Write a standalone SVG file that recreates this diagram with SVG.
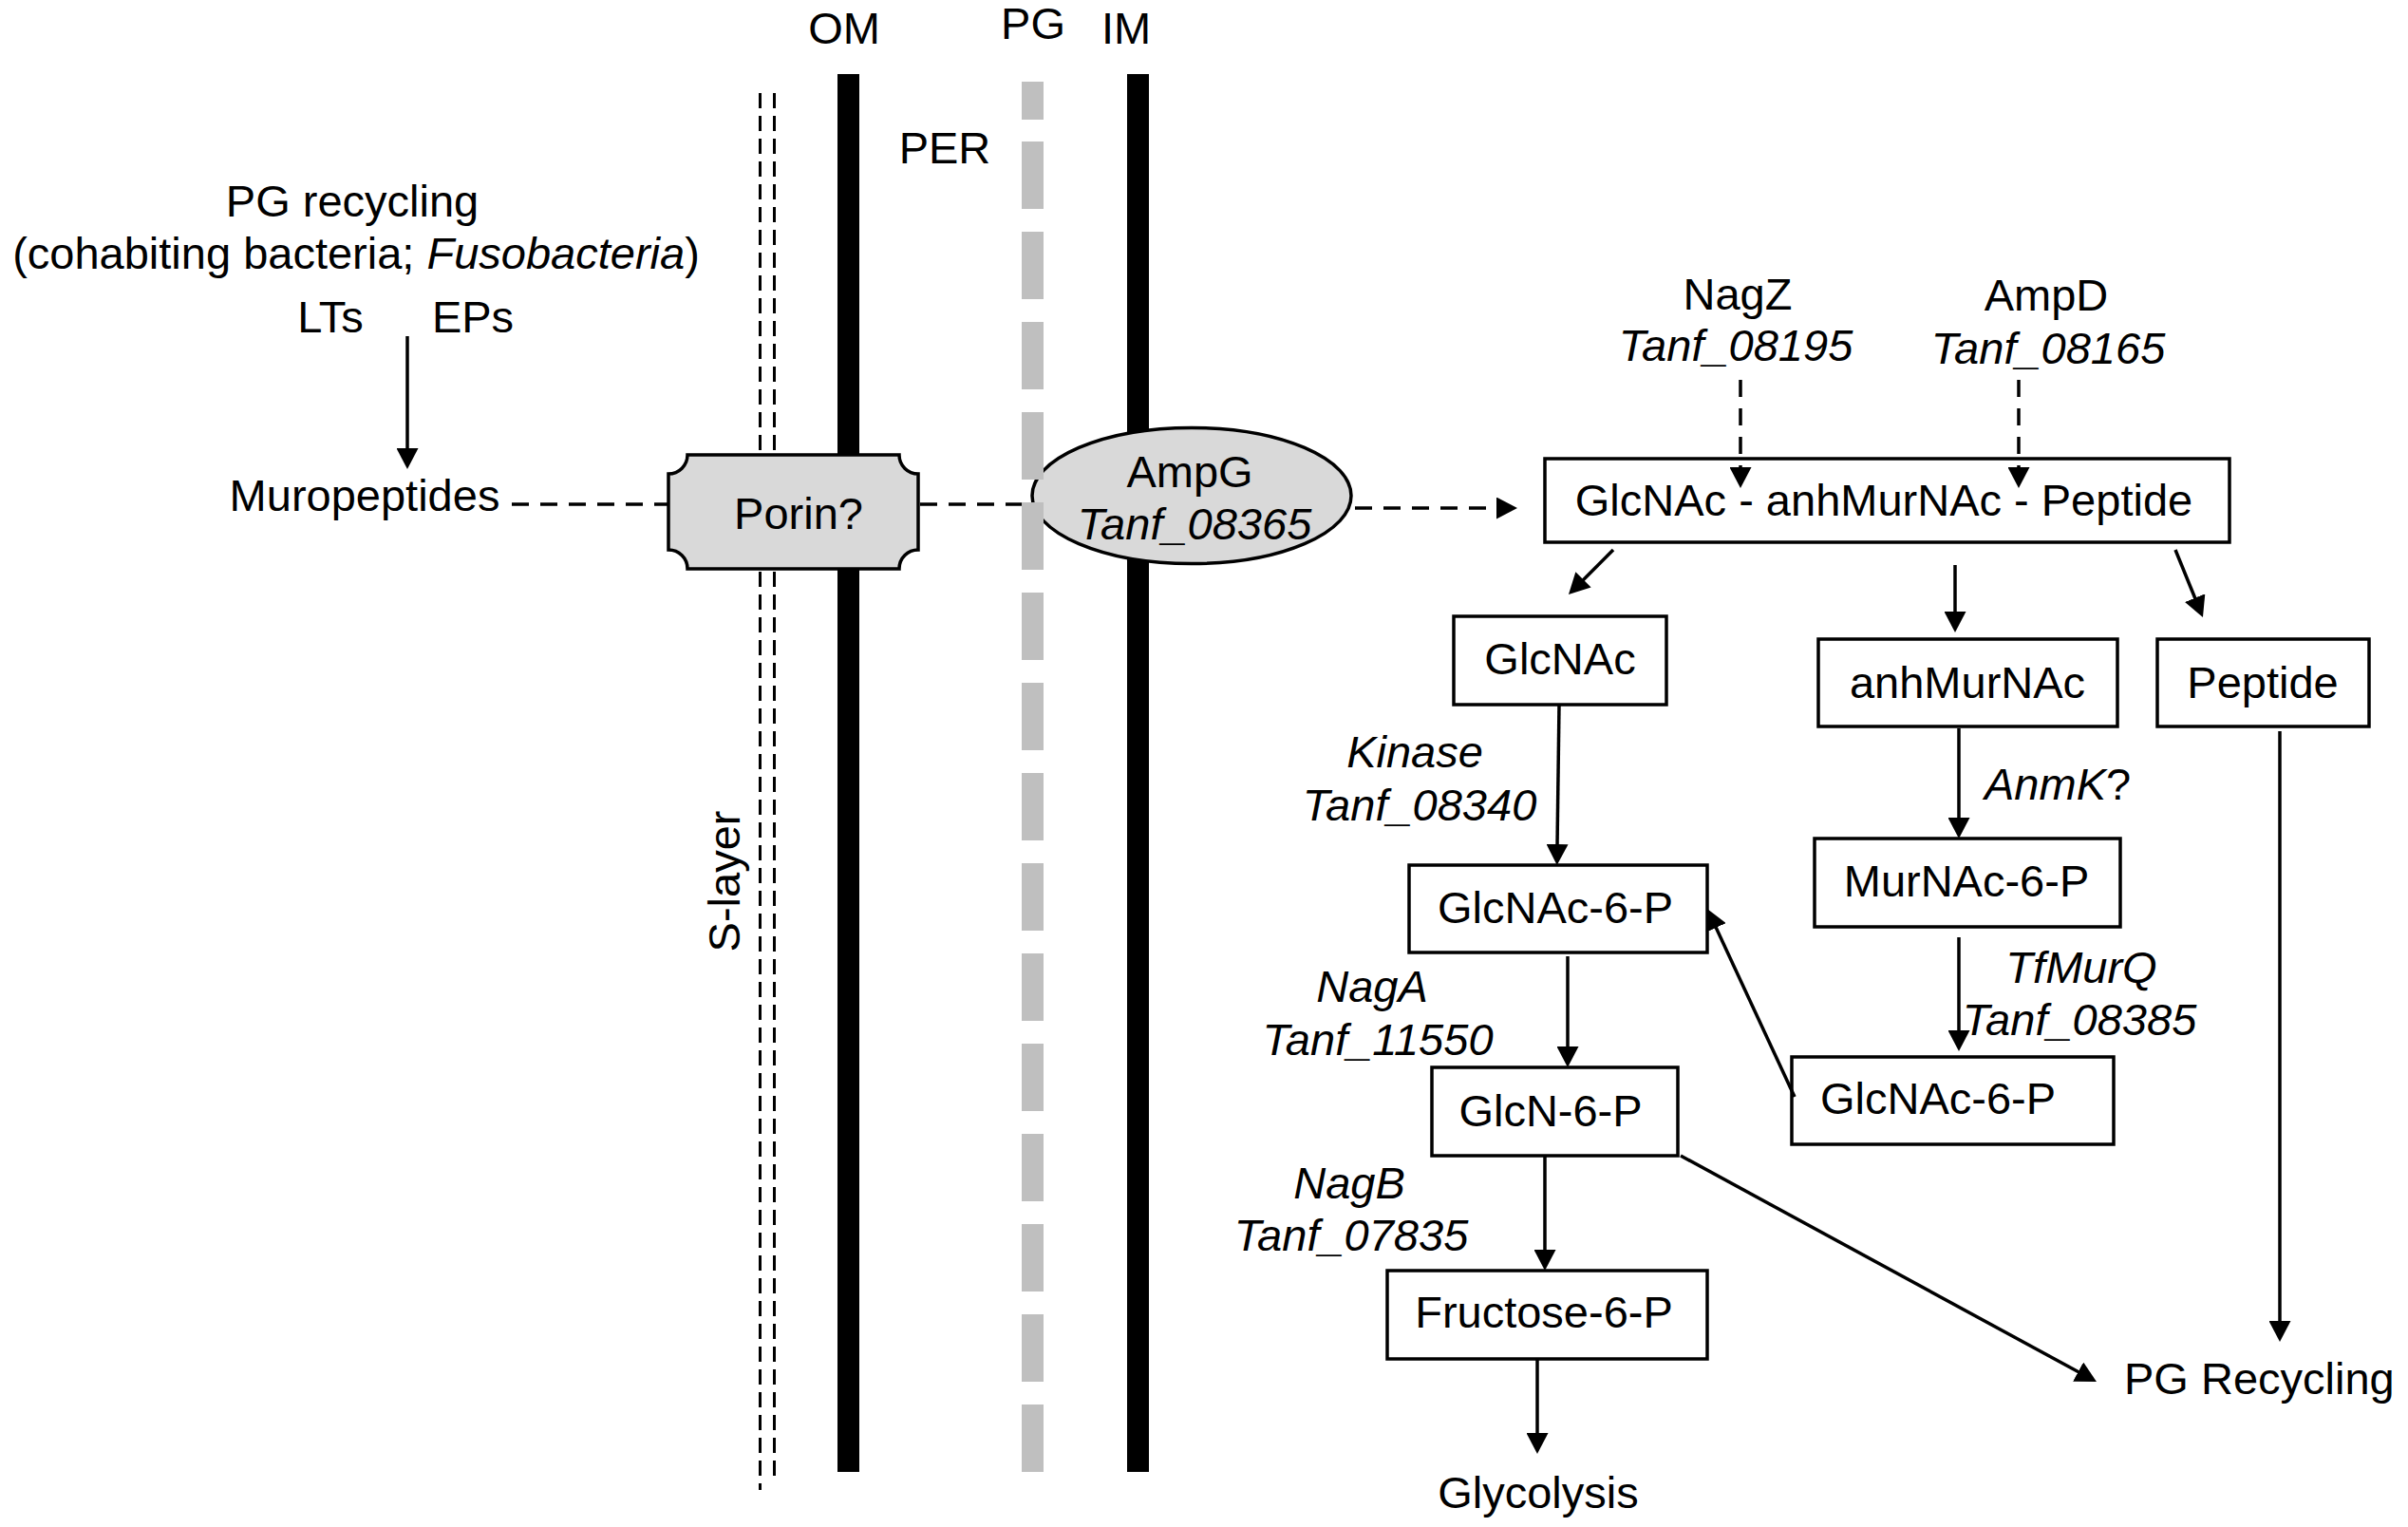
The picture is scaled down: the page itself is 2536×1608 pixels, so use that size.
<svg xmlns="http://www.w3.org/2000/svg" width="2536" height="1608" viewBox="0 0 2536 1608">
<defs>
<style>
text{font-family:"Liberation Sans",Arial,sans-serif;font-size:47px;fill:#000}
.m{text-anchor:middle}
.i{font-style:italic}
.box{fill:#fff;stroke:#000;stroke-width:3.5}
.ar{fill:none;stroke:#000;stroke-width:3.5}
.da{fill:none;stroke:#000;stroke-width:3.5;stroke-dasharray:18 12}
.sl{fill:none;stroke:#000;stroke-width:3;stroke-dasharray:16 8}
</style>
<marker id="ah" markerUnits="userSpaceOnUse" markerWidth="22" markerHeight="23" refX="2" refY="11.5" orient="auto" viewBox="0 0 22 23">
<path d="M0,0 L22,11.5 L0,23 Z" fill="#000"/>
</marker>
</defs>
<rect width="2536" height="1608" fill="#fff"/>

<g id="membranes">
<line class="sl" x1="800.5" y1="98" x2="800.5" y2="1569"/>
<line class="sl" x1="815.5" y1="98" x2="815.5" y2="1562"/>
<rect x="882" y="78" width="23" height="1472" fill="#000"/>
<rect x="1187" y="78" width="23" height="1472" fill="#000"/>
</g>

<g id="labels">
<text class="m" x="889" y="46" font-size="45">OM</text>
<text class="m" x="1088" y="41" font-size="45">PG</text>
<text class="m" x="1186" y="46" font-size="45">IM</text>
<text class="m" x="995" y="172">PER</text>
<text class="m" transform="translate(779,928) rotate(-90)">S-layer</text>
</g>

<g id="pg-recycling-source">
<text class="m" x="371" y="228">PG recycling</text>
<text class="m" x="375" y="283">(cohabiting bacteria; <tspan class="i">Fusobacteria</tspan>)</text>
<text class="m" x="348" y="350">LTs</text>
<text class="m" x="498" y="350">EPs</text>
</g>

<g id="muropeptides">
<text class="m" x="384" y="538">Muropeptides</text>
</g>

<g id="porin">
<path d="M724,479 L947,479 A20,20 0 0 0 967,499 L967,579 A20,20 0 0 0 947,599 L724,599 A20,20 0 0 0 704,579 L704,499 A20,20 0 0 0 724,479 Z" fill="#d9d9d9" stroke="#000" stroke-width="3.5"/>
<text class="m" x="841" y="557">Porin?</text>
</g>

<g id="ampg">
<ellipse cx="1255" cy="522" rx="168" ry="71.5" fill="#d9d9d9" stroke="#000" stroke-width="3.5"/>
<text class="m" x="1253" y="513">AmpG</text>
<text class="m i" x="1258" y="568">Tanf_08365</text>
</g>

<g id="pg-layer" fill="#bfbfbf">
<rect x="1076" y="86" width="23" height="40"/>
<line x1="1087.5" y1="149" x2="1087.5" y2="1550" stroke="#bfbfbf" stroke-width="23" stroke-dasharray="71 24"/>
</g>

<g id="nagz">
<text class="m" x="1830" y="326">NagZ</text>
<text class="m i" x="1828" y="380">Tanf_08195</text>
</g>
<g id="ampd">
<text class="m" x="2155" y="327">AmpD</text>
<text class="m i" x="2157" y="383">Tanf_08165</text>
</g>

<g id="main-box">
<rect class="box" x="1627" y="483" width="721" height="88"/>
<text class="m" x="1984" y="543">GlcNAc - anhMurNAc - Peptide</text>
</g>

<g id="glcnac">
<rect class="box" x="1531" y="649" width="224" height="93"/>
<text class="m" x="1643" y="710">GlcNAc</text>
</g>
<g id="anhmurnac">
<rect class="box" x="1915" y="673" width="315" height="92"/>
<text class="m" x="2072" y="735">anhMurNAc</text>
</g>
<g id="peptide">
<rect class="box" x="2272" y="673" width="223" height="92"/>
<text class="m" x="2383" y="735">Peptide</text>
</g>

<g id="kinase">
<text class="m i" x="1490" y="808">Kinase</text>
<text class="m i" x="1495" y="864">Tanf_08340</text>
</g>
<g id="anmk">
<text x="2090" y="842"><tspan class="i">AnmK</tspan>?</text>
</g>

<g id="murnac-6-p">
<rect class="box" x="1911" y="883" width="322" height="93"/>
<text class="m" x="2071" y="944">MurNAc-6-P</text>
</g>
<g id="glcnac-6-p-left">
<rect class="box" x="1484" y="911" width="314" height="92"/>
<text class="m" x="1638" y="972">GlcNAc-6-P</text>
</g>

<g id="tfmurq">
<text class="m i" x="2192" y="1035">TfMurQ</text>
<text class="m i" x="2190" y="1090">Tanf_08385</text>
</g>
<g id="naga">
<text class="m i" x="1445" y="1055">NagA</text>
<text class="m i" x="1451" y="1111">Tanf_11550</text>
</g>

<g id="glcnac-6-p-right">
<rect class="box" x="1887" y="1113" width="339" height="92"/>
<text class="m" x="2041" y="1173">GlcNAc-6-P</text>
</g>
<g id="glcn-6-p">
<rect class="box" x="1508" y="1124" width="259" height="93"/>
<text class="m" x="1633" y="1186">GlcN-6-P</text>
</g>

<g id="nagb">
<text class="m i" x="1421" y="1262">NagB</text>
<text class="m i" x="1423" y="1317">Tanf_07835</text>
</g>

<g id="fructose-6-p">
<rect class="box" x="1461" y="1338" width="337" height="93"/>
<text class="m" x="1626" y="1398">Fructose-6-P</text>
</g>
<g id="glycolysis">
<text class="m" x="1620" y="1588">Glycolysis</text>
</g>
<g id="pg-recycling">
<text x="2237" y="1468">PG Recycling</text>
</g>

<g id="connectors">
<line class="da" x1="539" y1="531" x2="704" y2="531" stroke-dasharray="16 12"/>
<line class="da" x1="969" y1="531" x2="1076" y2="531" stroke-dasharray="20 15"/>
<line class="ar" x1="429" y1="354" x2="429" y2="474" marker-end="url(#ah)"/>
<line class="da" x1="1427" y1="535" x2="1578" y2="535" stroke-dasharray="20 12" marker-end="url(#ah)"/>
<line class="da" x1="1833" y1="400" x2="1833" y2="494" stroke-dasharray="16 8" marker-end="url(#ah)"/>
<line class="da" x1="2126" y1="400" x2="2126" y2="494" stroke-dasharray="16 8" marker-end="url(#ah)"/>
<line class="ar" x1="1699" y1="579" x2="1666.1" y2="611.9" marker-end="url(#ah)"/>
<line class="ar" x1="2059" y1="595" x2="2059" y2="646" marker-end="url(#ah)"/>
<line class="ar" x1="2291" y1="579" x2="2312.4" y2="631.5" marker-end="url(#ah)"/>
<line class="ar" x1="1642" y1="742" x2="1640" y2="891" marker-end="url(#ah)"/>
<line class="ar" x1="2063" y1="767" x2="2063" y2="863" marker-end="url(#ah)"/>
<line class="ar" x1="2063" y1="987" x2="2063" y2="1087" marker-end="url(#ah)"/>
<line class="ar" x1="1890" y1="1155" x2="1806.4" y2="975.1" marker-end="url(#ah)"/>
<line class="ar" x1="1651" y1="1007" x2="1651" y2="1104" marker-end="url(#ah)"/>
<line class="ar" x1="1627" y1="1218" x2="1627" y2="1318" marker-end="url(#ah)"/>
<line class="ar" x1="1619" y1="1432" x2="1619" y2="1511" marker-end="url(#ah)"/>
<line class="ar" x1="1770" y1="1217" x2="2190.4" y2="1445.5" marker-end="url(#ah)"/>
<line class="ar" x1="2401" y1="770" x2="2401" y2="1393" marker-end="url(#ah)"/>
</g>
</svg>
